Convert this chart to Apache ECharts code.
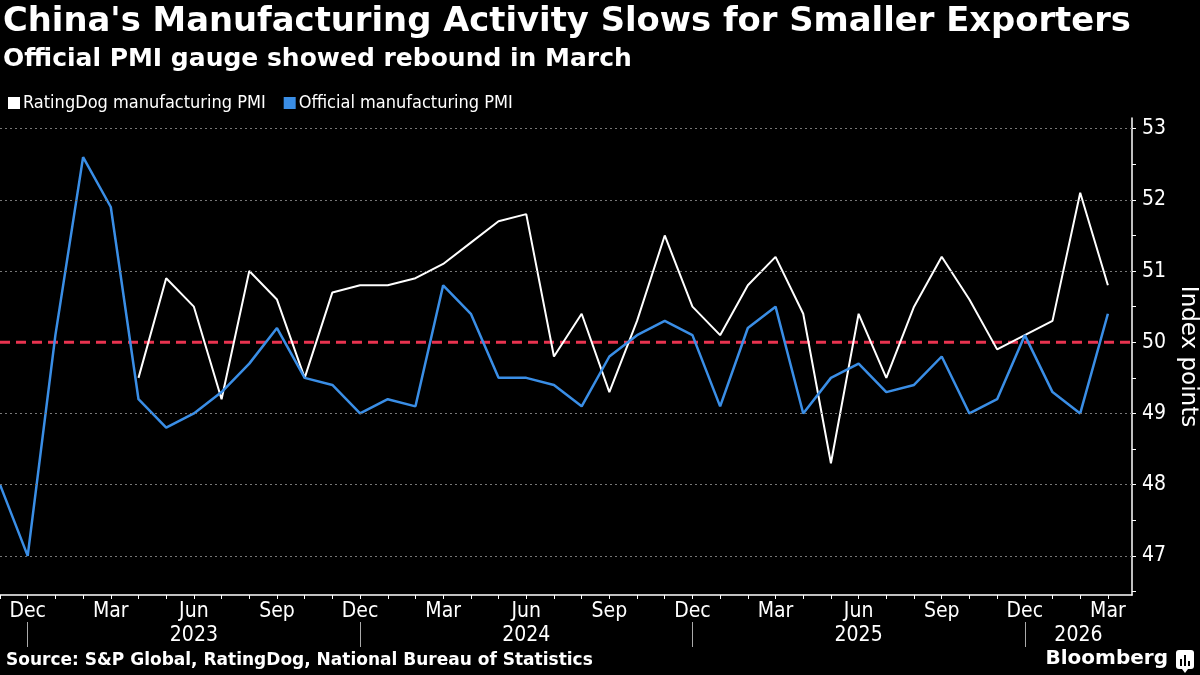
<!DOCTYPE html>
<html><head><meta charset="utf-8">
<script src="https://cdn.jsdelivr.net/npm/echarts@6/dist/echarts.min.js"></script>
<style>html,body{margin:0;padding:0;background:#000}#c{width:1200px;height:675px}</style>
</head><body><div id="c"></div>
<script>
const months = ['2022-11','2022-12',
  '2023-01','2023-02','2023-03','2023-04','2023-05','2023-06','2023-07','2023-08','2023-09','2023-10','2023-11','2023-12',
  '2024-01','2024-02','2024-03','2024-04','2024-05','2024-06','2024-07','2024-08','2024-09','2024-10','2024-11','2024-12',
  '2025-01','2025-02','2025-03','2025-04','2025-05','2025-06','2025-07','2025-08','2025-09','2025-10','2025-11','2025-12',
  '2026-01','2026-02','2026-03'];
const ratingDog = [null,null,
  null,null,null,49.5,50.9,50.5,49.2,51.0,50.6,49.5,50.7,50.8,
  50.8,50.9,51.1,51.4,51.7,51.8,49.8,50.4,49.3,50.3,51.5,50.5,
  50.1,50.8,51.2,50.4,48.3,50.4,49.5,50.5,51.2,50.6,49.9,50.1,
  50.3,52.1,50.8];
const official = [48.0,47.0,
  50.1,52.6,51.9,49.2,48.8,49.0,49.3,49.7,50.2,49.5,49.4,49.0,
  49.2,49.1,50.8,50.4,49.5,49.5,49.4,49.1,49.8,50.1,50.3,50.1,
  49.1,50.2,50.5,49.0,49.5,49.7,49.3,49.4,49.8,49.0,49.2,50.1,
  49.3,49.0,50.4];
const yLabelTicks = [47,48,49,50,51,52,53];
const yMinorTicks = [46.5,47,47.5,48,48.5,49,49.5,50,50.5,51,51.5,52,52.5,53];
const monthNames = ['Jan','Feb','Mar','Apr','May','Jun','Jul','Aug','Sep','Oct','Nov','Dec'];
const labelledMonths = ['Dec','Mar','Jun','Sep'];
const threshold = 50;
const seriesNames = ['RatingDog manufacturing PMI','Official manufacturing PMI'];
const titleText = "China's Manufacturing Activity Slows for Smaller Exporters";
const subtitleText = 'Official PMI gauge showed rebound in March';
const sourceText = 'Source: S&P Global, RatingDog, National Bureau of Statistics';
const yAxisName = 'Index points';

const X_MIN = 0, X_MAX = 40.87;
const FONT = 'DejaVu Sans Condensed';

const monthIdx = months.map((_, i) => i);
const monthOf = i => monthNames[parseInt(months[i].slice(5), 10) - 1];
const monthLabelIdx = monthIdx.filter(i => labelledMonths.includes(monthOf(i)));
const decIdx = monthIdx.filter(i => monthOf(i) === 'Dec');
// year labels centred between year separators (or axis end)
const yearPos = {};
decIdx.forEach((d, k) => {
  const end = k + 1 < decIdx.length ? decIdx[k + 1] : X_MAX;
  const yr = months[d].slice(0, 4);
  yearPos[String(+yr + 1)] = (d + end) / 2;
});
const yearVals = Object.values(yearPos);
const yearLabelOf = v => Object.keys(yearPos).find(k => Math.abs(yearPos[k] - v) < 1e-6) || '';
const gridLines = yLabelTicks.filter(v => v !== threshold);

const toPairs = arr => arr.map((v, i) => v == null ? null : [i, v]).filter(p => p);

const chart = echarts.init(document.getElementById('c'), null, {renderer: 'canvas'});
chart.setOption({
  backgroundColor: '#000',
  animation: false,
  title: [
    {text: titleText, left: 3, top: 5, padding: 0,
     textStyle: {color: '#fff', fontFamily: 'DejaVu Sans', fontWeight: 'bold', fontSize: 33.8}},
    {text: subtitleText, left: 3, top: 47, padding: 0,
     textStyle: {color: '#fff', fontFamily: 'DejaVu Sans', fontWeight: 'bold', fontSize: 25}},
    {text: sourceText, left: 6, top: 652, padding: 0,
     textStyle: {color: '#fff', fontFamily: 'DejaVu Sans', fontWeight: 'bold', fontSize: 17}},
    {text: 'Bloomberg', right: 32, top: 649, padding: 0,
     textStyle: {color: '#fff', fontFamily: 'DejaVu Sans', fontWeight: 'bold', fontSize: 20}}
  ],
  graphic: [
    {type: 'group', left: 1176, top: 650, children: [
      {type: 'rect', shape: {x: 0, y: 0, width: 18, height: 19, r: 3}, style: {fill: '#fff'}},
      {type: 'polygon', shape: {points: [[6,19],[9,23],[12,19]]}, style: {fill: '#fff'}},
      {type: 'rect', shape: {x: 4, y: 9, width: 2, height: 7}, style: {fill: '#000'}},
      {type: 'rect', shape: {x: 8, y: 5, width: 2, height: 11}, style: {fill: '#000'}},
      {type: 'rect', shape: {x: 12, y: 11, width: 2, height: 5}, style: {fill: '#000'}}
    ]}
  ],
  legend: {
    data: seriesNames, left: 8, top: 94, padding: 0,
    icon: 'rect', itemWidth: 12, itemHeight: 12, itemGap: 18,
    textStyle: {color: '#fff', fontFamily: FONT, fontSize: 18, padding: [0, 0, 0, -2]},
    selectedMode: false
  },
  grid: {left: 0, right: 68, top: 118, bottom: 80, containLabel: false, outerBoundsMode: 'none'},
  xAxis: [
    {type: 'value', min: X_MIN, max: X_MAX, position: 'bottom',
     axisLine: {show: true, onZero: false, lineStyle: {color: '#fff', width: 1.5}},
     axisTick: {show: true, customValues: monthIdx, length: 4, lineStyle: {color: '#fff'}},
     axisLabel: {show: true, customValues: monthLabelIdx, formatter: v => monthOf(Math.round(v)),
       color: '#fff', fontFamily: FONT, fontSize: 21, margin: 6},
     splitLine: {show: false}},
    {type: 'value', min: X_MIN, max: X_MAX, position: 'bottom', offset: 27,
     axisLine: {show: false, onZero: false},
     axisTick: {show: true, customValues: decIdx, length: 25, lineStyle: {color: '#aaa', width: 1}},
     axisLabel: {show: true, customValues: yearVals, formatter: v => yearLabelOf(v),
       color: '#fff', fontFamily: FONT, fontSize: 21, margin: 3},
     splitLine: {show: false}}
  ],
  yAxis: {
    type: 'value', position: 'right', min: 46.45, max: 53.15,
    axisLine: {show: true, onZero: false, lineStyle: {color: '#fff', width: 1.5}},
    axisTick: {show: true, customValues: yMinorTicks, length: 4, lineStyle: {color: '#fff'}},
    axisLabel: {show: true, customValues: yLabelTicks, color: '#fff', fontFamily: FONT, fontSize: 21, margin: 10},
    splitLine: {show: false},
    name: yAxisName, nameLocation: 'middle', nameRotate: -90, nameGap: 36,
    nameTextStyle: {color: '#fff', fontFamily: 'DejaVu Sans', fontSize: 23}
  },
  series: [
    {type: 'line', name: '_grid', data: [], z: 1, silent: true,
     markLine: {silent: true, symbol: ['none', 'none'], label: {show: false},
       lineStyle: {color: '#777', type: [2, 3], width: 1},
       data: gridLines.map(v => ({yAxis: v}))}},
    {type: 'line', name: '_threshold', data: [[X_MIN, threshold], [X_MAX, threshold]], z: 2, silent: true,
     showSymbol: false, symbol: 'none', color: '#e8334f',
     lineStyle: {color: '#e8334f', type: [10, 6], width: 3.2}},
    {type: 'line', name: seriesNames[0], data: toPairs(ratingDog), xAxisIndex: 0, z: 3,
     showSymbol: false, symbol: 'none', color: '#ffffff', lineStyle: {color: '#ffffff', width: 2}},
    {type: 'line', name: seriesNames[1], data: toPairs(official), xAxisIndex: 0, z: 4,
     showSymbol: false, symbol: 'none', color: '#3a8ee6', lineStyle: {color: '#3a8ee6', width: 2.5}}
  ]
});
</script></body></html>
